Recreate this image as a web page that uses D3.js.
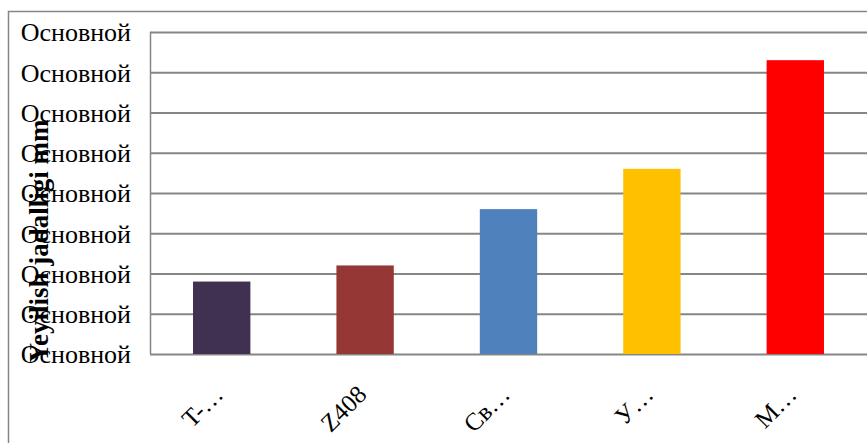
<!DOCTYPE html>
<html>
<head>
<meta charset="utf-8">
<script src="https://cdn.jsdelivr.net/npm/d3@7/dist/d3.min.js"></script>
<style>
  html, body { margin: 0; padding: 0; background: #fff; }
  svg { display: block; }
</style>
</head>
<body>
<div id="chart"></div>
<script>
//-- DATA --\\
var categories = ["T-…", "Z408", "Св…", "У…", "М…"];
var values = [1.8, 2.2, 3.6, 4.6, 7.3];
var barColors = ["#403151", "#953735", "#4f81bd", "#ffc000", "#ff0000"];
var yTicks = [0, 1, 2, 3, 4, 5, 6, 7, 8];
var yTickLabels = ["Основной", "Основной", "Основной", "Основной", "Основной",
                   "Основной", "Основной", "Основной", "Основной"];
var yTitle = "Yeyilish jadalligi mm";

//-- CONSTANTS --\\
var width = 867;
var height = 443;
var plotLeft = 150, plotRight = 867, plotTop = 32, plotBottom = 354;
var gridCol = "#868686";
var serif = "'Liberation Serif', 'Times New Roman', serif";

var svg = d3.select("#chart").append("svg")
    .attr("width", width)
    .attr("height", height);

// outer chart frame (only top/left visible)
svg.append("path")
    .attr("d", "M8.5," + height + "V11.5H" + width)
    .attr("fill", "none")
    .attr("stroke", gridCol)
    .attr("stroke-width", 1.5);

var x = d3.scaleBand()
    .domain(categories)
    .range([plotLeft, plotRight])
    .paddingInner(0.6)
    .paddingOuter(0.3);

var y = d3.scaleLinear()
    .domain([0, 8])
    .range([plotBottom, plotTop]);

// gridlines + y labels
var yAxis = svg.append("g")
    .attr("transform", "translate(" + plotLeft + ",0)")
    .call(d3.axisLeft(y)
        .tickValues(yTicks)
        .tickSize(-(plotRight - plotLeft))
        .tickPadding(19)
        .tickFormat(function (d, i) { return yTickLabels[i]; }));

yAxis.select(".domain").remove();
yAxis.selectAll(".tick line")
    .attr("stroke", gridCol)
    .attr("stroke-width", 1.8);
yAxis.selectAll(".tick text")
    .attr("fill", "#000")
    .attr("dy", "0.34em")
    .style("font-family", serif)
    .style("font-size", "26px");

// left edge of plot area
svg.append("line")
    .attr("x1", plotLeft + 0.5).attr("x2", plotLeft + 0.5)
    .attr("y1", plotTop).attr("y2", plotBottom)
    .attr("stroke", gridCol)
    .attr("stroke-width", 1.5);

// bars
svg.selectAll("rect.bar")
    .data(values)
    .enter().append("rect")
    .attr("class", "bar")
    .attr("x", function (d, i) { return x(categories[i]); })
    .attr("width", x.bandwidth())
    .attr("y", function (d) { return y(d); })
    .attr("height", function (d) { return y(0) - y(d); })
    .attr("fill", function (d, i) { return barColors[i]; });

// x labels, rotated
svg.selectAll("text.xlab")
    .data(categories)
    .enter().append("text")
    .attr("class", "xlab")
    .attr("transform", function (d) {
        return "translate(" + (x(d) + x.bandwidth() / 2 + 3) + "," + (plotBottom + 42) + ") rotate(-45)";
    })
    .attr("text-anchor", "end")
    .style("font-family", serif)
    .style("font-size", "25px")
    .attr("fill", "#000")
    .text(function (d) { return d; });

// y title
svg.append("text")
    .attr("transform", "translate(48,241) rotate(-90)")
    .attr("text-anchor", "middle")
    .style("font-family", serif)
    .style("font-size", "27px")
    .style("font-weight", "bold")
    .attr("fill", "#000")
    .text(yTitle);
</script>
</body>
</html>
